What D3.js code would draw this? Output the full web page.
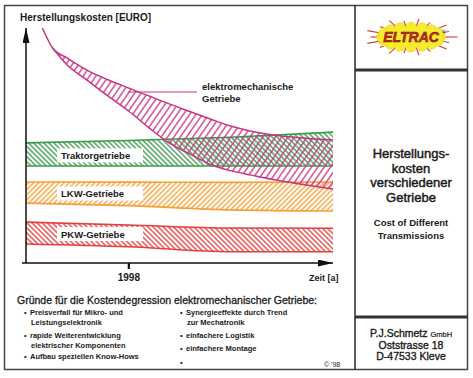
<!DOCTYPE html>
<html lang="de">
<head>
<meta charset="utf-8">
<title>Herstellungskosten verschiedener Getriebe</title>
<script src="https://d3js.org/d3.v7.min.js"></script>
<style>
body { margin: 0; background: #fff; }
text { font-family: "Liberation Sans", Arial, sans-serif; fill: #1a1a1a; }
</style>
</head>
<body>
<script>
// data (cost in arbitrary units 0..100, time in years)
var years = [1993, 1998, 2003, 2008];
var traktorTop = [51.1, 52.1, 53.5, 55.7];
var traktorBottom = [41.3, 41.3, 41.3, 41.3];
var lkwTop = [34.5, 34.4, 34.3, 34.5];
var lkwBottom = [25.5, 24.4, 22.6, 22.1];
var pkwTop = [17.4, 16.2, 14.9, 14.8];
var pkwBottom = [8.1, 6.9, 4.8, 4.8];

var emYears = [1993.8, 1994.3, 1995, 1996, 1997, 1998, 1999, 2000, 2001, 2002, 2003, 2004, 2005, 2006, 2007, 2008];
var emTop = [100, 91.5, 87.3, 82.0, 78.0, 74.5, 71.1, 67.7, 64.5, 61.3, 58.3, 56.1, 54.6, 53.6, 52.9, 52.3];
var emBottom = [null, 91.5, 84.4, 77.7, 71.1, 64.8, 57.6, 51.0, 46.4, 41.9, 39.3, 37.4, 35.6, 34.1, 32.8, 31.5];

var tickYears = [1998];
var bandNames = ["Traktorgetriebe", "LKW-Getriebe", "PKW-Getriebe"];

var reasonsLeft = [["Preisverfall für Mikro- und", "Leistungselektronik"], ["rapide Weiterentwicklung", "elektrischer Komponenten"], ["Aufbau speziellen Know-Hows"]];
var reasonsRight = [["Synergieeffekte durch Trend", "zur Mechatronik"], ["einfachere Logistik"], ["einfachere Montage"], [""]];

var w = 473, h = 378;
var green = "#3a9a4c", orange = "#f7a035", red = "#e2403f", magenta = "#c93383";

var svg = d3.select("body").append("svg")
  .attr("width", w)
  .attr("height", h);

var x = d3.scaleLinear().domain([1993, 2008]).range([26, 333]);
var y = d3.scaleLinear().domain([0, 100]).range([263, 28]);

var defs = svg.append("defs");
function hatch(id, color, angle, size, sw) {
  var p = defs.append("pattern")
    .attr("id", id)
    .attr("patternUnits", "userSpaceOnUse")
    .attr("width", size)
    .attr("height", size)
    .attr("patternTransform", "rotate(" + angle + ")");
  p.append("line")
    .attr("x1", size / 2).attr("y1", -1)
    .attr("x2", size / 2).attr("y2", size + 1)
    .attr("stroke", color)
    .attr("stroke-width", sw);
}
hatch("hGreen", green, -45, 3.6, 1.35);
hatch("hOrange", orange, 45, 3.6, 1.35);
hatch("hRed", red, -45, 3.6, 1.35);
hatch("hMag", magenta, 35, 5.2, 1.3);

defs.append("marker")
  .attr("id", "arrow")
  .attr("markerUnits", "userSpaceOnUse")
  .attr("markerWidth", 15).attr("markerHeight", 7)
  .attr("refX", 15).attr("refY", 3.5)
  .attr("orient", "auto")
  .append("path").attr("d", "M0,0L15,3.5L0,7Z").attr("fill", "#111");

// frame
svg.append("rect").attr("x", 4.5).attr("y", 5.5).attr("width", 463).attr("height", 364)
  .attr("fill", "none").attr("stroke", "#444").attr("stroke-width", 1.5);
svg.append("line").attr("x1", 355).attr("x2", 355).attr("y1", 5).attr("y2", 370)
  .attr("stroke", "#333").attr("stroke-width", 1.6);
svg.append("line").attr("x1", 355).attr("x2", 468).attr("y1", 70).attr("y2", 70)
  .attr("stroke", "#333").attr("stroke-width", 3);
svg.append("line").attr("x1", 355).attr("x2", 468).attr("y1", 317).attr("y2", 317)
  .attr("stroke", "#333").attr("stroke-width", 3);

// bands
var curve = d3.curveMonotoneX;
var area = d3.area().curve(curve)
  .x(function (d) { return x(d.t); })
  .y0(function (d) { return y(d.lo); })
  .y1(function (d) { return y(d.hi); });
var line = d3.line().curve(curve)
  .x(function (d) { return x(d.t); })
  .y(function (d) { return y(d.v); });

function band(top, bottom, color, pat) {
  var rows = years.map(function (t, i) { return { t: t, hi: top[i], lo: bottom[i] }; });
  svg.append("path").attr("d", area(rows)).attr("fill", "url(#" + pat + ")");
  [top, bottom].forEach(function (s) {
    svg.append("path")
      .attr("d", line(years.map(function (t, i) { return { t: t, v: s[i] }; })))
      .attr("fill", "none").attr("stroke", color).attr("stroke-width", 1.6);
  });
}
band(traktorTop, traktorBottom, green, "hGreen");
band(lkwTop, lkwBottom, orange, "hOrange");
band(pkwTop, pkwBottom, red, "hRed");

// elektromechanische Getriebe
var emRows = emYears.map(function (t, i) { return { t: t, hi: emTop[i], lo: emBottom[i] }; });
svg.append("path")
  .attr("d", area.defined(function (d) { return d.lo != null; })(emRows))
  .attr("fill", "url(#hMag)");
svg.append("path")
  .attr("d", line(emYears.map(function (t, i) { return { t: t, v: emTop[i] }; })))
  .attr("fill", "none").attr("stroke", magenta).attr("stroke-width", 1.5);
svg.append("path")
  .attr("d", line(emRows.filter(function (d) { return d.lo != null; }).map(function (d) { return { t: d.t, v: d.lo }; })))
  .attr("fill", "none").attr("stroke", magenta).attr("stroke-width", 1.5);

// band labels
var labelY = [(traktorTop[0] + traktorBottom[0]) / 2, (lkwTop[0] + lkwBottom[0]) / 2, (pkwTop[0] + pkwBottom[0]) / 2];
bandNames.forEach(function (n, i) {
  var cy = y(labelY[i]) + 1;
  svg.append("rect").attr("x", 57).attr("y", cy - 7).attr("width", 86).attr("height", 14).attr("fill", "#fff");
  svg.append("text").attr("x", 61).attr("y", cy + 3.5)
    .attr("font-size", "9.5px").attr("font-weight", "bold").text(n);
});

// leader + em label
svg.append("line").attr("x1", x(1998)).attr("x2", 197).attr("y1", 92).attr("y2", 92)
  .attr("stroke", magenta).attr("stroke-width", 1.2);
svg.append("text").attr("x", 202).attr("y", 90).attr("font-size", "9.5px").attr("font-weight", "bold").text("elektromechanische");
svg.append("text").attr("x", 202).attr("y", 102).attr("font-size", "9.5px").attr("font-weight", "bold").text("Getriebe");

// axes
svg.append("line").attr("x1", x(1993)).attr("x2", x(1993)).attr("y1", y(0)).attr("y2", y(100))
  .attr("stroke", "#111").attr("stroke-width", 1.5).attr("marker-end", "url(#arrow)");
svg.append("line").attr("x1", 22).attr("x2", x(2008)).attr("y1", y(0)).attr("y2", y(0))
  .attr("stroke", "#111").attr("stroke-width", 1.5).attr("marker-end", "url(#arrow)");

var xAxis = svg.append("g")
  .attr("transform", "translate(0," + y(0) + ")")
  .call(d3.axisBottom(x).tickValues(tickYears).tickFormat(d3.format("d")).tickSize(6).tickPadding(5));
xAxis.select(".domain").remove();
xAxis.selectAll(".tick line").attr("stroke", "#111").attr("stroke-width", 2.2);
xAxis.selectAll(".tick text")
  .attr("font-family", "Liberation Sans, Arial, sans-serif")
  .attr("font-size", "10px").attr("font-weight", "bold").attr("fill", "#1a1a1a");

svg.append("text").attr("x", 20).attr("y", 21).attr("font-size", "10px").attr("font-weight", "bold")
  .text("Herstellungskosten [EURO]");
svg.append("text").attr("x", 309).attr("y", 281).attr("font-size", "9px").attr("font-weight", "bold")
  .text("Zeit [a]");

// reasons
svg.append("text").attr("x", 17).attr("y", 304).attr("font-size", "10.5px")
  .attr("stroke", "#1a1a1a").attr("stroke-width", 0.3)
  .text("Gründe für die Kostendegression elektromechanischer Getriebe:");

function bullets(list, bx, tx, starts) {
  list.forEach(function (lines, i) {
    svg.append("text").attr("x", bx).attr("y", starts[i]).attr("font-size", "7.5px").attr("font-weight", "bold").text("•");
    lines.forEach(function (l, j) {
      svg.append("text").attr("x", tx + (j ? 1 : 0)).attr("y", starts[i] + j * 10)
        .attr("font-size", "7.5px").attr("font-weight", "bold").text(l);
    });
  });
}
bullets(reasonsLeft, 24, 30, [315, 338, 359]);
bullets(reasonsRight, 180, 186, [315, 338, 351, 365]);

svg.append("text").attr("x", 324).attr("y", 367).attr("font-size", "7px").text("© '98");

// right panel
var titleLines = ["Herstellungs-", "kosten", "verschiedener", "Getriebe"];
titleLines.forEach(function (t, i) {
  svg.append("text").attr("x", 411).attr("y", 158 + i * 14.6).attr("text-anchor", "middle")
    .attr("font-size", "13px").attr("stroke", "#1a1a1a").attr("stroke-width", 0.45).text(t);
});
["Cost of Different", "Transmissions"].forEach(function (t, i) {
  svg.append("text").attr("x", 411).attr("y", 226 + i * 12.5).attr("text-anchor", "middle")
    .attr("font-size", "9.5px").attr("font-weight", "bold").text(t);
});

var addr = svg.append("text").attr("x", 411).attr("y", 337).attr("text-anchor", "middle")
  .attr("font-size", "10.5px").attr("stroke", "#1a1a1a").attr("stroke-width", 0.35);
addr.append("tspan").text("P.J.Schmetz ");
addr.append("tspan").attr("font-size", "7.5px").attr("stroke-width", 0.2).text("GmbH");
["Oststrasse 18", "D-47533 Kleve"].forEach(function (t, i) {
  svg.append("text").attr("x", 411).attr("y", 348.5 + i * 11.5).attr("text-anchor", "middle")
    .attr("font-size", "10.5px").attr("stroke", "#1a1a1a").attr("stroke-width", 0.35).text(t);
});

// logo
var logo = svg.append("g").attr("transform", "translate(411,37)");
var spikeAngles = [0, 20, 40, 62, 80, 100, 118, 140, 160, 180, 200, 220, 242, 260, 280, 298, 320, 340];
spikeAngles.forEach(function (a, i) {
  var r = a * Math.PI / 180, k = i % 2 ? 1.35 : 1.55;
  logo.append("line")
    .attr("x1", Math.cos(r) * 26).attr("y1", Math.sin(r) * 9)
    .attr("x2", Math.cos(r) * 30 * k).attr("y2", Math.sin(r) * 12 * k)
    .attr("stroke", "#d23a3a").attr("stroke-width", 1.1);
});
var bumps = d3.range(0, 360, 22.5);
bumps.forEach(function (a) {
  var r = a * Math.PI / 180;
  logo.append("circle").attr("cx", Math.cos(r) * 29).attr("cy", Math.sin(r) * 9.5).attr("r", 5.5)
    .attr("fill", "#f6ec2e").attr("stroke", "#e0c41e").attr("stroke-width", 0.5);
});
logo.append("ellipse").attr("rx", 31).attr("ry", 10.5).attr("fill", "#f6ec2e");
logo.append("text").attr("x", 0).attr("y", 5).attr("text-anchor", "middle")
  .attr("font-size", "14px").attr("font-weight", "bold").attr("font-style", "italic")
  .attr("stroke", "#5a1010").attr("stroke-width", 0.5)
  .style("fill", "#d42a2a").text("ELTRAC");
logo.append("text").attr("x", 31).attr("y", -3).attr("font-size", "5px").text("®");
</script>
</body>
</html>
